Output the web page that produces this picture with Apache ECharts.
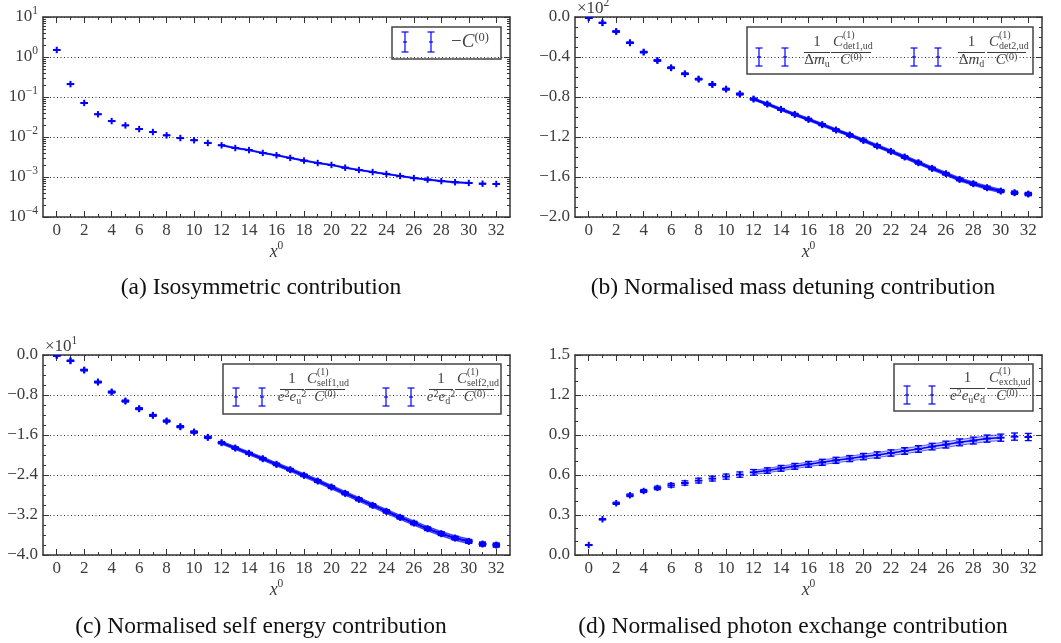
<!DOCTYPE html>
<html>
<head>
<meta charset="utf-8">
<script src="https://cdn.jsdelivr.net/npm/echarts@6.0.0/dist/echarts.min.js"></script>
<style>
html, body { margin: 0; padding: 0; background: #fff; }
#chart { width: 1061px; height: 643px; }
</style>
</head>
<body>
<div id="chart"></div>
<script>
// time slices and fit range
const x0 = [0,1,2,3,4,5,6,7,8,9,10,11,12,13,14,15,16,17,18,19,20,21,22,23,24,25,26,27,28,29,30,31,32];
const fitX = [12,13,14,15,16,17,18,19,20,21,22,23,24,25,26,27,28,29,30];

// (a) -C(0)
const isoVal = [1.5,0.21,0.071,0.037,0.025,0.0195,0.0158,0.0133,0.011,0.0094,0.0083,0.0071,0.0062,0.0053,0.0047,0.0040,0.0035,0.0030,0.00257,0.00224,0.0020,0.00171,0.0015,0.00133,0.00119,0.00106,0.00094,0.00086,0.00079,0.00074,0.00071,0.00068,0.00067];
const isoErr = [0.004,0.0006,0.0002,0.0001,0.00008,0.00006,0.00005,0.00004,0.00004,0.00003,0.00003,0.00003,0.00002,0.00002,0.00002,0.00002,0.00002,0.00002,0.00001,0.00001,0.00001,0.00001,0.00001,0.00001,0.00001,0.00001,0.00001,0.00001,0.00001,0.00001,0.00001,0.00001,0.00001];
const isoFitErr = [0.00022,0.00019,0.00017,0.00014,0.00012,0.00011,0.00009,0.00008,0.00007,0.00006,0.00005,0.000045,0.00004,0.000036,0.000032,0.00003,0.000028,0.000026,0.000025];

// (b) mass detuning, axis units x10^2
const detU = [-0.010,-0.060,-0.147,-0.260,-0.353,-0.437,-0.510,-0.570,-0.623,-0.677,-0.723,-0.773,-0.823,-0.873,-0.927,-0.977,-1.027,-1.080,-1.133,-1.183,-1.237,-1.293,-1.347,-1.403,-1.460,-1.517,-1.570,-1.627,-1.670,-1.710,-1.743,-1.760,-1.773];
const detD = [-0.008,-0.057,-0.143,-0.255,-0.349,-0.433,-0.506,-0.566,-0.619,-0.672,-0.719,-0.768,-0.818,-0.868,-0.921,-0.971,-1.021,-1.074,-1.127,-1.177,-1.231,-1.287,-1.341,-1.397,-1.454,-1.511,-1.565,-1.621,-1.664,-1.704,-1.738,-1.755,-1.768];
const detErr = [0.001,0.002,0.003,0.003,0.004,0.004,0.005,0.005,0.005,0.006,0.006,0.006,0.007,0.007,0.007,0.008,0.008,0.008,0.009,0.009,0.009,0.010,0.010,0.010,0.011,0.011,0.011,0.012,0.012,0.013,0.013,0.014,0.014];
const detFitErr = [0.010,0.010,0.011,0.011,0.011,0.012,0.012,0.012,0.013,0.013,0.013,0.014,0.014,0.014,0.015,0.015,0.015,0.016,0.016];

// (c) self energy, axis units x10^1
const selfU = [-0.013,-0.120,-0.307,-0.547,-0.747,-0.927,-1.080,-1.213,-1.327,-1.440,-1.547,-1.653,-1.760,-1.867,-1.973,-2.080,-2.193,-2.300,-2.413,-2.527,-2.647,-2.773,-2.893,-3.013,-3.133,-3.253,-3.367,-3.480,-3.580,-3.667,-3.733,-3.787,-3.807];
const selfD = [-0.010,-0.112,-0.296,-0.535,-0.735,-0.915,-1.068,-1.201,-1.315,-1.428,-1.535,-1.641,-1.748,-1.855,-1.961,-2.068,-2.181,-2.288,-2.401,-2.515,-2.635,-2.761,-2.881,-3.001,-3.121,-3.241,-3.355,-3.468,-3.568,-3.655,-3.721,-3.775,-3.795];
const selfErr = [0.003,0.005,0.007,0.008,0.010,0.011,0.012,0.012,0.013,0.014,0.015,0.016,0.017,0.018,0.018,0.019,0.020,0.021,0.022,0.023,0.024,0.025,0.026,0.027,0.028,0.029,0.030,0.031,0.032,0.033,0.034,0.035,0.036];
const selfFitErr = [0.026,0.027,0.028,0.029,0.030,0.031,0.032,0.033,0.034,0.035,0.036,0.037,0.038,0.039,0.040,0.041,0.042,0.043,0.044];

// (d) photon exchange
const exch = [0.075,0.268,0.388,0.448,0.480,0.503,0.523,0.540,0.558,0.573,0.588,0.603,0.620,0.633,0.650,0.665,0.680,0.695,0.710,0.723,0.738,0.750,0.765,0.780,0.795,0.813,0.828,0.845,0.858,0.873,0.880,0.888,0.885];
const exchErr = [0.003,0.004,0.008,0.010,0.011,0.013,0.014,0.016,0.018,0.018,0.019,0.020,0.021,0.021,0.022,0.022,0.022,0.023,0.023,0.023,0.024,0.024,0.024,0.025,0.025,0.025,0.026,0.026,0.026,0.027,0.027,0.027,0.027];
const exchFitErr = [0.016,0.016,0.017,0.017,0.017,0.018,0.018,0.018,0.019,0.019,0.019,0.020,0.020,0.020,0.021,0.021,0.021,0.022,0.022];

const BLUE = '#0000ff';
const AXC = '#333';
const LBL = '#3c3c3c';
const TXT = '#444';
const SERIF = '"Liberation Serif", "DejaVu Serif", serif';

const evens = x0.filter(v => v % 2 === 0);
const minorLog = [];
for (let e = -4; e <= 0; e++) for (let m = 2; m <= 9; m++) minorLog.push(m * Math.pow(10, e));

const grids = [
  { left: 43, top: 17, width: 467, height: 200 },
  { left: 575, top: 17, width: 467, height: 200 },
  { left: 43, top: 355, width: 467, height: 200 },
  { left: 575, top: 355, width: 467, height: 200 }
];

const ySpecs = [
  { type: 'log', min: 1e-4, max: 10 },
  { type: 'value', min: -2, max: 0, interval: 0.4, minor: 4 },
  { type: 'value', min: -4, max: 0, interval: 0.8, minor: 4 },
  { type: 'value', min: 0, max: 1.5, interval: 0.3, minor: 3 }
];

const supRich = {
  b: { fontFamily: SERIF, fontSize: 17, color: LBL, lineHeight: 24 },
  s: { fontFamily: SERIF, fontSize: 11.5, color: LBL, lineHeight: 10, verticalAlign: 'top' },
  i: { fontFamily: SERIF, fontSize: 18, fontStyle: 'italic', color: LBL, lineHeight: 24 }
};

function logFmt(v) {
  const e = Math.round(Math.log10(v));
  return '{b|10}{s|' + (e < 0 ? '\u2212' + (-e) : e) + '}';
}
function linFmt(v) {
  return (v < -1e-9 ? '\u2212' : '') + Math.abs(v).toFixed(1);
}

const xAxes = [], yAxes = [], yMain = [];
const lineSt = { color: AXC, width: 1.5 };
const tickSt = { color: AXC, width: 1 };

grids.forEach((g, gi) => {
  const base = { type: 'value', gridIndex: gi, min: -1, max: 33, splitLine: { show: false },
    axisLine: { show: false, onZero: false }, axisLabel: { show: false }, axisTick: { show: false } };
  xAxes.push(Object.assign({}, base, {
    position: 'bottom',
    axisLine: { show: true, onZero: false, lineStyle: lineSt },
    axisTick: { show: true, inside: true, length: 3, customValues: x0, lineStyle: tickSt },
    axisLabel: { show: true, customValues: evens, margin: 5, color: LBL, fontFamily: SERIF, fontSize: 17 },
    name: '{i|x}{s|0}', nameLocation: 'middle', nameGap: 21,
    nameTextStyle: { rich: supRich }
  }));
  xAxes.push(Object.assign({}, base, { position: 'bottom',
    axisTick: { show: true, inside: true, length: 6, customValues: evens, lineStyle: tickSt } }));
  xAxes.push(Object.assign({}, base, { position: 'top',
    axisLine: { show: true, onZero: false, lineStyle: lineSt },
    axisTick: { show: true, inside: true, length: 3, customValues: x0, lineStyle: tickSt } }));
  xAxes.push(Object.assign({}, base, { position: 'top',
    axisTick: { show: true, inside: true, length: 6, customValues: evens, lineStyle: tickSt } }));

  const s = ySpecs[gi];
  const yb = { type: s.type, gridIndex: gi, min: s.min, max: s.max,
    axisLine: { show: true, onZero: false, lineStyle: lineSt },
    axisTick: { show: true, inside: true, length: 6, lineStyle: tickSt } };
  if (s.type === 'log') yb.logBase = 10;
  if (s.interval) yb.interval = s.interval;
  if (s.minor) yb.minorTick = { show: true, splitNumber: s.minor, length: 3, lineStyle: tickSt };
  yMain.push(yAxes.length);
  yAxes.push(Object.assign({}, yb, {
    position: 'left',
    splitLine: { show: true, lineStyle: { color: '#333', width: 1, type: [1, 2.5] } },
    axisLabel: { show: true, margin: 5, color: LBL, fontFamily: SERIF, fontSize: 17,
      formatter: s.type === 'log' ? logFmt : linFmt, rich: supRich }
  }));
  yAxes.push(Object.assign({}, yb, { position: 'right', splitLine: { show: false }, axisLabel: { show: false } }));
  if (s.type === 'log') {
    ['left', 'right'].forEach(p => {
      yAxes.push({ type: 'log', logBase: 10, gridIndex: gi, min: s.min, max: s.max, position: p,
        axisLine: { show: false, onZero: false }, splitLine: { show: false }, axisLabel: { show: false },
        axisTick: { show: true, inside: true, length: 3, customValues: minorLog, lineStyle: tickSt } });
    });
  }
});

function errRender(params, api) {
  const x = api.value(0), y = api.value(1), e = api.value(2);
  const c = api.coord([x, y]);
  const lo = api.coord([x, y - e]);
  const hi = api.coord([x, y + e]);
  const st = { stroke: BLUE, lineWidth: 1.3 };
  const mk = { stroke: BLUE, lineWidth: 2 };
  return { type: 'group', children: [
    { type: 'line', shape: { x1: c[0], y1: lo[1], x2: c[0], y2: hi[1] }, style: st },
    { type: 'line', shape: { x1: c[0] - 3.5, y1: lo[1], x2: c[0] + 3.5, y2: lo[1] }, style: st },
    { type: 'line', shape: { x1: c[0] - 3.5, y1: hi[1], x2: c[0] + 3.5, y2: hi[1] }, style: st },
    { type: 'line', shape: { x1: c[0] - 3.8, y1: c[1], x2: c[0] + 3.8, y2: c[1] }, style: mk },
    { type: 'line', shape: { x1: c[0], y1: c[1] - 3.2, x2: c[0], y2: c[1] + 3.2 }, style: mk }
  ] };
}

function pointSeries(gi, vals, errs) {
  return { type: 'custom', xAxisIndex: gi * 4, yAxisIndex: yMain[gi], silent: true, z: 4,
    data: x0.map((x, i) => [x, vals[i], errs[i]]), renderItem: errRender, clip: true };
}
function bandSeries(gi, cen, errs) {
  return { type: 'custom', xAxisIndex: gi * 4, yAxisIndex: yMain[gi], silent: true, z: 2,
    data: [[fitX[0], cen[0]]], clip: true,
    renderItem: (params, api) => {
      const up = fitX.map((x, i) => api.coord([x, cen[i] + errs[i]]));
      const dn = fitX.map((x, i) => api.coord([x, cen[i] - errs[i]])).reverse();
      return { type: 'polygon', shape: { points: up.concat(dn) },
        style: { fill: 'rgba(60,60,255,0.28)', stroke: 'rgba(0,0,255,0.75)', lineWidth: 0.8 } };
    } };
}
function fitLine(gi, cen) {
  return { type: 'line', xAxisIndex: gi * 4, yAxisIndex: yMain[gi], silent: true, z: 3,
    showSymbol: false, data: fitX.map((x, i) => [x, cen[i]]),
    lineStyle: { color: BLUE, width: 1.5 } };
}
const fitOf = arr => arr.slice(fitX[0], fitX[fitX.length - 1] + 1);

const series = [
  bandSeries(0, fitOf(isoVal), isoFitErr), fitLine(0, fitOf(isoVal)), pointSeries(0, isoVal, isoErr),
  bandSeries(1, fitOf(detU), detFitErr), fitLine(1, fitOf(detU)), pointSeries(1, detU, detErr),
  bandSeries(1, fitOf(detD), detFitErr), fitLine(1, fitOf(detD)), pointSeries(1, detD, detErr),
  bandSeries(2, fitOf(selfU), selfFitErr), fitLine(2, fitOf(selfU)), pointSeries(2, selfU, selfErr),
  bandSeries(2, fitOf(selfD), selfFitErr), fitLine(2, fitOf(selfD)), pointSeries(2, selfD, selfErr),
  bandSeries(3, fitOf(exch), exchFitErr), fitLine(3, fitOf(exch)), pointSeries(3, exch, exchErr)
];

// ---- legends, multipliers and captions (graphic) ----
const R = {
  n: { fontFamily: SERIF, fontSize: 15, fill: TXT, lineHeight: 17 },
  i: { fontFamily: SERIF, fontSize: 15, fontStyle: 'italic', fill: TXT, lineHeight: 17 },
  sb: { fontFamily: SERIF, fontSize: 10, fill: TXT, lineHeight: 10, verticalAlign: 'bottom' },
  sp: { fontFamily: SERIF, fontSize: 10, fill: TXT, lineHeight: 10, verticalAlign: 'top' },
  N: { fontFamily: SERIF, fontSize: 19, fill: TXT, lineHeight: 22 },
  I: { fontFamily: SERIF, fontSize: 19, fontStyle: 'italic', fill: TXT, lineHeight: 22 },
  S: { fontFamily: SERIF, fontSize: 12.5, fill: TXT, lineHeight: 12, verticalAlign: 'top' },
  M: { fontFamily: SERIF, fontSize: 17, fill: LBL, lineHeight: 24 },
  MS: { fontFamily: SERIF, fontSize: 11.5, fill: LBL, lineHeight: 10, verticalAlign: 'top' }
};

function txt(x, y, text, align, va) {
  return { type: 'text', x: x, y: y, silent: true, z: 10,
    style: { text: text, rich: R, align: align, verticalAlign: va, textAlign: align, textVerticalAlign: va } };
}
function box(x1, y1, x2, y2) {
  return { type: 'rect', shape: { x: x1, y: y1, width: x2 - x1, height: y2 - y1 }, silent: true,
    style: { fill: '#fff', stroke: '#444', lineWidth: 1.5 } };
}
function sym(x, y1, y2) {
  const st = { stroke: BLUE, lineWidth: 1.2 };
  const ym = (y1 + y2) / 2;
  return [
    { type: 'line', shape: { x1: x, y1: y1, x2: x, y2: y2 }, style: st, silent: true },
    { type: 'line', shape: { x1: x - 3.5, y1: y1, x2: x + 3.5, y2: y1 }, style: st, silent: true },
    { type: 'line', shape: { x1: x - 3.5, y1: y2, x2: x + 3.5, y2: y2 }, style: st, silent: true },
    { type: 'line', shape: { x1: x - 2, y1: ym, x2: x + 2, y2: ym }, style: st, silent: true }
  ];
}
function fline(x1, x2, ly) {
  return { type: 'line', shape: { x1: x1, y1: ly + 0.5, x2: x2, y2: ly + 0.5 }, silent: true, z: 11,
    style: { stroke: '#3a3a3a', lineWidth: 1 } };
}
function frac(x1, x2, ly, num, den) {
  const cx = (x1 + x2) / 2;
  return [
    txt(cx, ly - 1, num, 'center', 'bottom'),
    txt(cx, ly, den, 'center', 'top'),
    fline(x1, x2, ly)
  ];
}
function cfrac(x1, x2, ly, sub) {
  return [
    txt(x1 + 2, ly - 1, '{i|C}{sb|' + sub + '}', 'left', 'bottom'),
    txt(x1 + 12, ly - 17, '{sb|(1)}', 'left', 'middle'),
    txt((x1 + x2) / 2, ly, '{i|C}{sp|(0)}', 'center', 'top'),
    fline(x1, x2, ly)
  ];
}
function caption(x, y, text) {
  return { type: 'text', x: x, y: y, silent: true,
    style: { text: text, fontFamily: SERIF, fontSize: 23.5, fill: '#111',
      align: 'center', verticalAlign: 'middle', textAlign: 'center', textVerticalAlign: 'middle' } };
}

const gfx = [].concat(
  // (a)
  [box(392, 27, 501, 59)], sym(405, 32, 52), sym(431, 32, 52),
  [txt(451, 42, '{N|\u2212}{I|C}{S|(0)}', 'left', 'middle')],
  // (b)
  [box(747, 27, 1033, 74)], sym(759, 48, 66), sym(785, 48, 66),
  frac(804, 830, 52, '{n|1}', '{n|\u0394}{i|m}{sb|u}'), cfrac(831, 871, 52, 'det1,ud'),
  sym(914, 48, 66), sym(938, 48, 66),
  frac(958, 985, 52, '{n|1}', '{n|\u0394}{i|m}{sb|d}'), cfrac(987, 1026, 52, 'det2,ud'),
  [txt(577, 9, '{M|\u00d710}{MS|2}', 'left', 'middle')],
  // (c)
  [box(223, 364, 501, 414)], sym(236, 388, 406), sym(262, 388, 406),
  frac(280, 304, 389, '{n|1}', '{i|e}{sp|2}{i|e}{sb|u}{sp|2}'), cfrac(305, 345, 389, 'self1,ud'),
  sym(386, 388, 406), sym(411, 388, 406),
  frac(429, 453, 389, '{n|1}', '{i|e}{sp|2}{i|e}{sb|d}{sp|2}'), cfrac(455, 494, 389, 'self2,ud'),
  [txt(45, 347, '{M|\u00d710}{MS|1}', 'left', 'middle')],
  // (d)
  [box(894, 364, 1033, 411)], sym(907, 386, 404), sym(932, 386, 404),
  frac(950, 985, 388, '{n|1}', '{i|e}{sp|2}{i|e}{sb|u}{i|e}{sb|d}'), cfrac(987, 1027, 388, 'exch,ud'),
  // captions
  [caption(261, 288, '(a) Isosymmetric contribution'),
   caption(793, 288, '(b) Normalised mass detuning contribution'),
   caption(261, 627, '(c) Normalised self energy contribution'),
   caption(793, 627, '(d) Normalised photon exchange contribution')]
);

const chart = echarts.init(document.getElementById('chart'));
chart.setOption({
  animation: false,
  backgroundColor: '#fff',
  grid: grids,
  xAxis: xAxes,
  yAxis: yAxes,
  series: series,
  graphic: { elements: gfx }
});
</script>
</body>
</html>
